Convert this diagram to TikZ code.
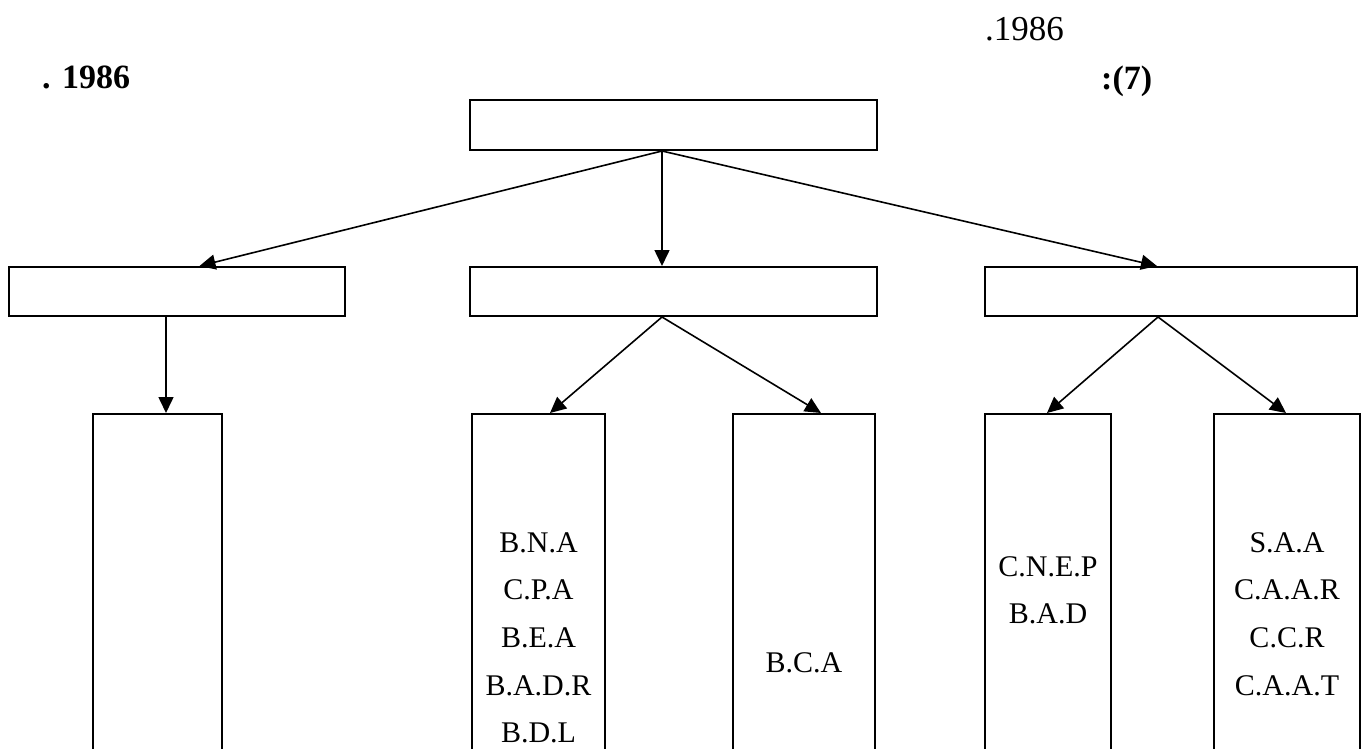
\documentclass[tikz,border=0pt]{standalone}
\usepackage{fontspec}
\setmainfont{Liberation Serif}
\usetikzlibrary{arrows.meta}

\tikzset{
    box/.style={draw, line width=2pt, inner sep=0pt},
    lbl/.style={anchor=base, inner sep=0pt, font=\fontsize{30}{30}\selectfont},
    arr/.style={line width=1.6pt, -{Triangle[length=16pt,width=15pt]}}
}

\begin{document}
\begin{tikzpicture}[x=1pt,y=-1pt]
    \useasboundingbox (0,0) rectangle (1366,749);
    % titles
    \node[anchor=base west, inner sep=0pt, font=\fontsize{35}{36}\selectfont] (year) at (985,41) {.1986};
    \node[anchor=base west, inner sep=0pt, font=\fontsize{34}{36}\selectfont\bfseries] (yearb) at (42,89) {. 1986};
    \node[anchor=base west, inner sep=0pt, font=\fontsize{34}{36}\selectfont\bfseries] (fig) at (1101,90) {:(7)};
    % boxes
    \node[box, minimum width=407pt, minimum height=50pt] (top) at (673.5,125) {};
    \node[box, minimum width=336pt, minimum height=49pt] (midL) at (176.5,291.5) {};
    \node[box, minimum width=407pt, minimum height=49pt] (midC) at (673.5,291.5) {};
    \node[box, minimum width=372pt, minimum height=49pt] (midR) at (1171,291.5) {};
    \node[box, minimum width=129pt, minimum height=386pt] (botL) at (157.5,607) {};
    \node[box, minimum width=133pt, minimum height=386pt] (bna) at (538.5,607) {};
    \node[box, minimum width=142pt, minimum height=386pt] (bca) at (804,607) {};
    \node[box, minimum width=126pt, minimum height=386pt] (cnep) at (1048,607) {};
    \node[box, minimum width=146pt, minimum height=386pt] (saa) at (1287,607) {};
    % arrows
    \draw[arr] ([xshift=-11.5pt]top.south) -- ([xshift=23pt]midL.north);
    \draw[arr] ([xshift=-11.5pt]top.south) -- ([xshift=-11.5pt]midC.north);
    \draw[arr] ([xshift=-11.5pt]top.south) -- ([xshift=-14pt]midR.north);
    \draw[arr] ([xshift=-10.5pt]midL.south) -- ([xshift=8.5pt]botL.north);
    \draw[arr] ([xshift=-11.5pt]midC.south) -- ([xshift=11.5pt]bna.north);
    \draw[arr] ([xshift=-11.5pt]midC.south) -- ([xshift=17pt]bca.north);
    \draw[arr] ([xshift=-13pt]midR.south) -- ([xshift=-1pt]cnep.north);
    \draw[arr] ([xshift=-13pt]midR.south) -- ([xshift=-1pt]saa.north);
    % labels
    \foreach \t [count=\i] in {B.N.A,C.P.A,B.E.A,B.A.D.R,B.D.L}
        \node[lbl] (bna\i) at (538.5,{552+47.7*(\i-1)}) {\t};
    \node[lbl] (bca1) at (804,672) {B.C.A};
    \foreach \t [count=\i] in {C.N.E.P,B.A.D}
        \node[lbl] (cnep\i) at (1048,{576+47.7*(\i-1)}) {\t};
    \foreach \t [count=\i] in {S.A.A,C.A.A.R,C.C.R,C.A.A.T}
        \node[lbl] (saa\i) at (1287,{552+47.7*(\i-1)}) {\t};
\end{tikzpicture}
\end{document}
